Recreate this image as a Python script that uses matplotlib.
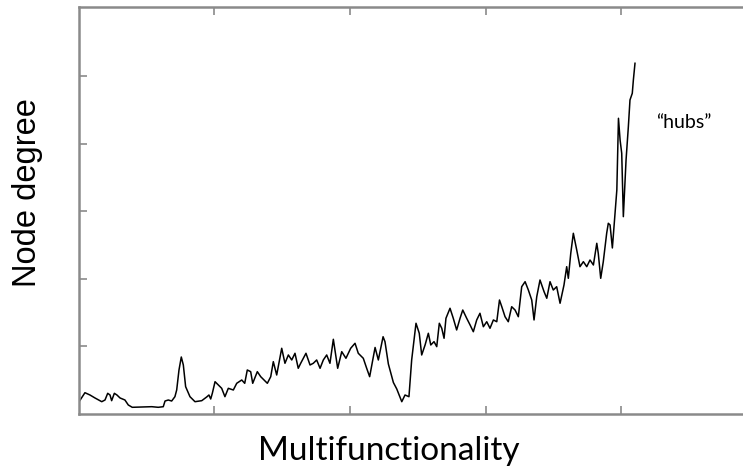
import matplotlib
matplotlib.use("Agg")
import matplotlib.pyplot as plt

# multifunctionality score (x) vs mean node degree (y), arbitrary units
multifunc = [0.000, 0.044, 0.081, 0.118, 0.168, 0.192, 0.212, 0.229, 0.241, 0.261,
             0.280, 0.303, 0.339, 0.364, 0.393, 0.537, 0.585, 0.622, 0.635, 0.659,
             0.684, 0.708, 0.721, 0.738, 0.755, 0.770, 0.787, 0.819, 0.856, 0.906,
             0.942, 0.959, 0.972, 0.984, 1.004, 1.028, 1.053, 1.077, 1.102, 1.139,
             1.164, 1.201, 1.223, 1.242, 1.267, 1.282, 1.316, 1.341, 1.365, 1.390,
             1.415, 1.434, 1.459, 1.496, 1.520, 1.545, 1.570, 1.594, 1.618, 1.636,
             1.675, 1.705, 1.729, 1.754, 1.779, 1.803, 1.828, 1.852, 1.877, 1.909,
             1.939, 1.970, 2.005, 2.037, 2.061, 2.098, 2.123, 2.145, 2.185, 2.209,
             2.244, 2.258, 2.283, 2.320, 2.345, 2.382, 2.406, 2.435, 2.455, 2.487,
             2.511, 2.529, 2.554, 2.578, 2.596, 2.620, 2.640, 2.659, 2.677, 2.694,
             2.708, 2.738, 2.762, 2.787, 2.812, 2.832, 2.861, 2.886, 2.910, 2.935,
             2.959, 2.984, 3.009, 3.033, 3.058, 3.083, 3.103, 3.120, 3.144, 3.168,
             3.193, 3.218, 3.242, 3.267, 3.292, 3.316, 3.341, 3.358, 3.378, 3.402,
             3.432, 3.452, 3.476, 3.500, 3.525, 3.550, 3.579, 3.599, 3.611, 3.629,
             3.648, 3.673, 3.697, 3.722, 3.747, 3.771, 3.796, 3.821, 3.832, 3.850,
             3.869, 3.894, 3.906, 3.919, 3.936, 3.956, 3.969, 3.981, 3.993, 4.005,
             4.017, 4.037, 4.054, 4.066, 4.083, 4.091, 4.103]
degree = [0.180, 0.315, 0.281, 0.237, 0.182, 0.207, 0.306, 0.281, 0.197, 0.306,
          0.281, 0.237, 0.207, 0.133, 0.099, 0.108, 0.099, 0.108, 0.192, 0.207,
          0.192, 0.256, 0.355, 0.651, 0.843, 0.725, 0.404, 0.256, 0.182, 0.197,
          0.251, 0.281, 0.222, 0.306, 0.478, 0.429, 0.380, 0.256, 0.380, 0.355,
          0.454, 0.503, 0.454, 0.651, 0.626, 0.454, 0.626, 0.552, 0.503, 0.454,
          0.552, 0.774, 0.577, 0.972, 0.750, 0.873, 0.799, 0.898, 0.676, 0.750,
          0.898, 0.725, 0.750, 0.799, 0.676, 0.799, 0.873, 0.750, 1.105, 0.676,
          0.922, 0.824, 0.972, 1.046, 0.898, 0.824, 0.676, 0.552, 0.984, 0.799,
          1.143, 1.070, 0.740, 0.466, 0.370, 0.182, 0.281, 0.256, 0.799, 1.342,
          1.194, 0.873, 1.021, 1.194, 1.021, 1.070, 0.996, 1.342, 1.268, 1.120,
          1.416, 1.564, 1.416, 1.243, 1.416, 1.538, 1.416, 1.317, 1.217, 1.391,
          1.490, 1.291, 1.365, 1.268, 1.391, 1.365, 1.686, 1.587, 1.439, 1.365,
          1.587, 1.538, 1.439, 1.883, 1.957, 1.834, 1.686, 1.391, 1.735, 1.982,
          1.809, 1.712, 1.957, 1.834, 1.883, 1.638, 1.908, 2.179, 2.007, 2.377,
          2.673, 2.426, 2.179, 2.253, 2.179, 2.278, 2.204, 2.525, 2.377, 2.007,
          2.253, 2.673, 2.821, 2.796, 2.456, 2.969, 3.314, 4.374, 4.053, 3.857,
          2.919, 3.757, 4.250, 4.645, 4.744, 4.941, 5.188]

xticks = [1, 2, 3, 4]
yticks = [1, 2, 3, 4, 5]

plt.rcParams['font.family'] = ['Lato', 'DejaVu Sans']

fig = plt.figure(figsize=(7.43, 4.68), dpi=100)
ax = fig.add_axes([0.1063, 0.1154, 0.8937, 0.8696])

ax.plot(multifunc, degree, color='black', lw=1.1)

ax.set_xlim(0, 4.9)
ax.set_ylim(0, 6.02)
ax.set_xticks(xticks)
ax.set_yticks(yticks)
ax.set_xticklabels([])
ax.set_yticklabels([])
ax.tick_params(direction='in', length=6, width=1.2, color='#8a8a8a',
               top=True, bottom=True, left=True, right=False)

ax.spines['right'].set_visible(False)
for side in ['left', 'top', 'bottom']:
    ax.spines[side].set_color('#8a8a8a')
    ax.spines[side].set_linewidth(1.8)

ax.text(4.465, 4.23, '\u201chubs\u201d', fontsize=14, ha='center', va='baseline')

ax.set_xlabel('Multifunctionality', fontsize=24, va='baseline')
ax.xaxis.set_label_coords(0.467, -0.113)
ax.set_ylabel('Node degree', fontsize=23.5, family='Liberation Sans',
              va='center', ha='center')
ax.yaxis.set_label_coords(-0.0768, 0.543)

fig.savefig('out.png', dpi=100)
